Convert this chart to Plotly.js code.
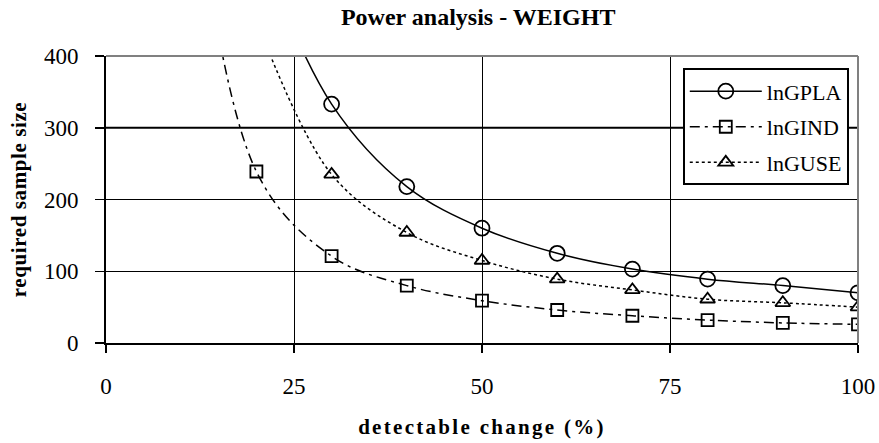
<!DOCTYPE html>
<html><head><meta charset="utf-8">
<script src="https://cdn.plot.ly/plotly-3.0.1.min.js"></script>
<style>html,body{margin:0;padding:0;background:#fff}#c{width:879px;height:443px}</style>
</head><body><div id="c"></div>
<script>
const gplaX = [20, 30, 40, 50, 60, 70, 80, 90, 100];
const gplaY = [560, 333, 218, 160, 125, 103, 89, 80, 70];
const gindX = [10, 20, 30, 40, 50, 60, 70, 80, 90, 100];
const gindY = [800, 239, 121, 80, 59, 46, 38, 32, 28, 26];
const guseX = [20, 30, 40, 50, 60, 70, 80, 90, 100];
const guseY = [450, 235, 154, 115, 89, 74, 61, 56, 50];
const names = ['lnGPLA', 'lnGIND', 'lnGUSE'];
const xTicks = [0, 25, 50, 75, 100];
const yTicks = [0, 100, 200, 300, 400];

const serif = 'Liberation Serif, Times New Roman, serif';
const mk = (x, y, name, dash, symbol, size, grp) => ({
  x: x, y: y, name: name, type: 'scatter', mode: 'lines+markers',
  legendgroup: grp,
  line: {color: '#000', width: 1.5, dash: dash, shape: 'spline', smoothing: 1},
  marker: {symbol: symbol, size: size, color: '#000', line: {color: '#000', width: 1.8}}
});
const data = [
  mk(gplaX, gplaY, names[0], 'solid', 'circle-open', 15, 'a'),
  mk(gindX, gindY, names[1], '10px,5px,3px,5px', 'square-open', 12, 'b'),
  mk(guseX, guseY, names[2], '3px,3px', 'triangle-up-open', 13, 'c')
];
const layout = {
  width: 879, height: 443,
  margin: {l: 106, r: 21, t: 56, b: 100},
  paper_bgcolor: '#fff', plot_bgcolor: '#fff',
  font: {family: serif, color: '#000', size: 23},
  title: {text: '<b>Power analysis - WEIGHT</b>', x: 0.544, xanchor: 'center', yref: 'container', y: 0.962, yanchor: 'middle',
          font: {family: serif, size: 24, color: '#000'}},
  showlegend: true,
  legend: {x: 0.767, y: 0.957, xanchor: 'left', yanchor: 'top', bgcolor: '#fff',
           bordercolor: '#000', borderwidth: 2, font: {family: serif, size: 22, color: '#000'},
           tracegroupgap: 4, itemwidth: 72, traceorder: 'grouped'},
  xaxis: {range: [0, 100], tickvals: xTicks, ticktext: xTicks.map(String),
          showgrid: true, gridcolor: '#000', gridwidth: 1,
          showline: true, linecolor: '#000', linewidth: 2, mirror: false,
          ticks: 'outside', ticklen: 8, tickwidth: 1.5, tickcolor: '#000',
          ticklabelstandoff: 13, zeroline: false,
          tickfont: {family: serif, size: 23, color: '#000'},
          title: {text: '<b>detectable change (%)</b>', standoff: 22, font: {family: serif, size: 21, color: '#000'}}},
  yaxis: {range: [0, 400], tickvals: yTicks, ticktext: yTicks.map(String),
          showgrid: true, gridcolor: '#000', gridwidth: 1,
          showline: true, linecolor: '#000', linewidth: 2, mirror: false,
          ticks: 'outside', ticklen: 9, tickwidth: 1.5, tickcolor: '#000', zeroline: false,
          ticklabelstandoff: 12,
          tickfont: {family: serif, size: 23, color: '#000'},
          title: {text: '<b>required sample size</b>', standoff: 12, font: {family: serif, size: 21, color: '#000'}}},
  shapes: [
    {type: 'line', xref: 'paper', yref: 'paper', x0: 0, x1: 1, y0: 1, y1: 1, line: {color: '#808080', width: 2}},
    {type: 'line', xref: 'paper', yref: 'paper', x0: 1, x1: 1, y0: 0, y1: 1, line: {color: '#808080', width: 2}},
    {type: 'line', xref: 'paper', yref: 'y', x0: 0, x1: 1, y0: 300, y1: 300, line: {color: '#000', width: 2}, layer: 'below'}
  ]
};
Plotly.newPlot('c', data, layout, {displayModeBar: false, staticPlot: true}).then(function () {
  document.querySelectorAll('.xtitle').forEach(function (t) { t.style.letterSpacing = '2.3px'; });
  document.querySelectorAll('.ytitle').forEach(function (t) { t.style.letterSpacing = '0.6px'; });
});
</script></body></html>
